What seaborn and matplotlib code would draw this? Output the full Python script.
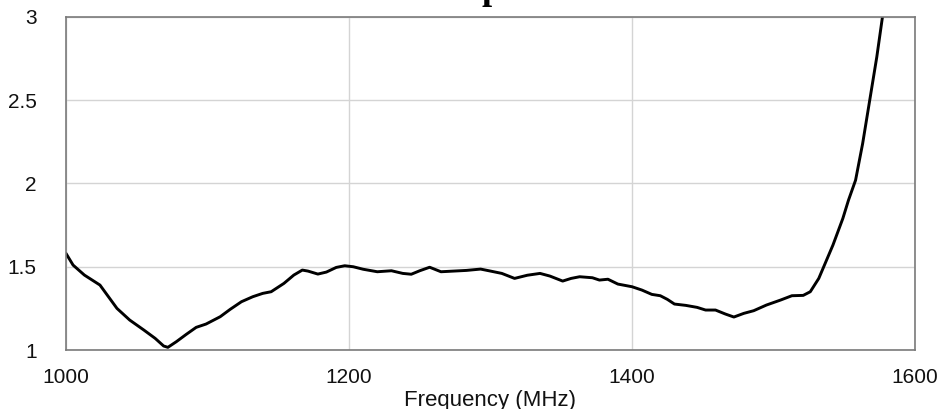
import matplotlib
matplotlib.use("Agg")
import matplotlib.pyplot as plt
import seaborn as sns
import pandas as pd

# Frequency (MHz) and VSWR values
freq = [1000, 1005, 1013, 1024, 1030, 1036, 1045, 1055, 1063, 1069, 1072, 1078,
        1085, 1092, 1099, 1109, 1116, 1124, 1132, 1139, 1145, 1154, 1161, 1167,
        1171, 1178, 1184, 1191, 1197, 1203, 1210, 1220, 1230, 1238, 1244, 1250,
        1257, 1265, 1274, 1283, 1293, 1300, 1308, 1317, 1326, 1335, 1342, 1351,
        1357, 1363, 1372, 1377, 1383, 1390, 1400, 1407, 1414, 1420, 1425, 1430,
        1438, 1446, 1452, 1459, 1466, 1472, 1479, 1486, 1495, 1505, 1513, 1521,
        1526, 1532, 1536, 1542, 1549, 1553, 1558, 1563, 1568, 1573, 1577, 1580]
vswr = [1.58, 1.51, 1.45, 1.39, 1.32, 1.25, 1.18, 1.12, 1.07, 1.024, 1.016, 1.05,
        1.094, 1.136, 1.156, 1.20, 1.244, 1.29, 1.32, 1.34, 1.35, 1.40, 1.45, 1.48,
        1.474, 1.456, 1.468, 1.496, 1.506, 1.50, 1.485, 1.47, 1.476, 1.46, 1.455, 1.476,
        1.497, 1.47, 1.474, 1.478, 1.486, 1.474, 1.46, 1.43, 1.449, 1.46, 1.444, 1.414,
        1.43, 1.44, 1.434, 1.42, 1.425, 1.396, 1.38, 1.36, 1.334, 1.326, 1.304, 1.276,
        1.268, 1.256, 1.24, 1.24, 1.216, 1.198, 1.22, 1.236, 1.27, 1.30, 1.326, 1.328,
        1.35, 1.43, 1.51, 1.63, 1.79, 1.90, 2.02, 2.24, 2.50, 2.76, 3.0, 3.2]

x_ticks = [1000, 1200, 1400, 1600]
y_ticks = [1, 1.5, 2, 2.5, 3]
y_tick_labels = ["1", "1.5", "2", "2.5", "3"]
x_label = "Frequency (MHz)"

sns.set_style("white")
plt.rcParams['font.family'] = ['Liberation Sans', 'DejaVu Sans']

df = pd.DataFrame({"freq": freq, "vswr": vswr})

fig = plt.figure(figsize=(9.41, 4.09), dpi=100)
ax = fig.add_axes([66 / 941, 1 - 350 / 409, 849 / 941, 333 / 409])

sns.lineplot(data=df, x="freq", y="vswr", ax=ax, color="black", linewidth=2.1,
             sort=False, estimator=None)

ax.set_xlim(1000, 1600)
ax.set_ylim(1, 3)
ax.set_xticks(x_ticks)
ax.set_xticklabels([str(t) for t in x_ticks])
ax.set_yticks(y_ticks)
ax.set_yticklabels(y_tick_labels)
ax.grid(True, color="#d4d4d4", linewidth=1.0)
ax.set_axisbelow(True)
ax.tick_params(axis="both", length=0, labelsize=15, colors="#111111")
ax.tick_params(axis="x", pad=13)
ax.tick_params(axis="y", pad=21)
for side, sp in ax.spines.items():
    sp.set_visible(True)
    sp.set_color("#7a7a7a")
    sp.set_linewidth(1.2)
ax.set_xlabel(x_label, fontsize=16, color="#111111", labelpad=2)
ax.set_ylabel("")

# cut-off remnant of the title at the top edge (only its descender shows)
fig.text(492 / 941, 1 + 1 / 409, "p", family=["Liberation Serif", "DejaVu Serif"],
         fontsize=26, fontweight="bold", ha="center", va="baseline", color="black")

fig.savefig("out.png", dpi=100)
